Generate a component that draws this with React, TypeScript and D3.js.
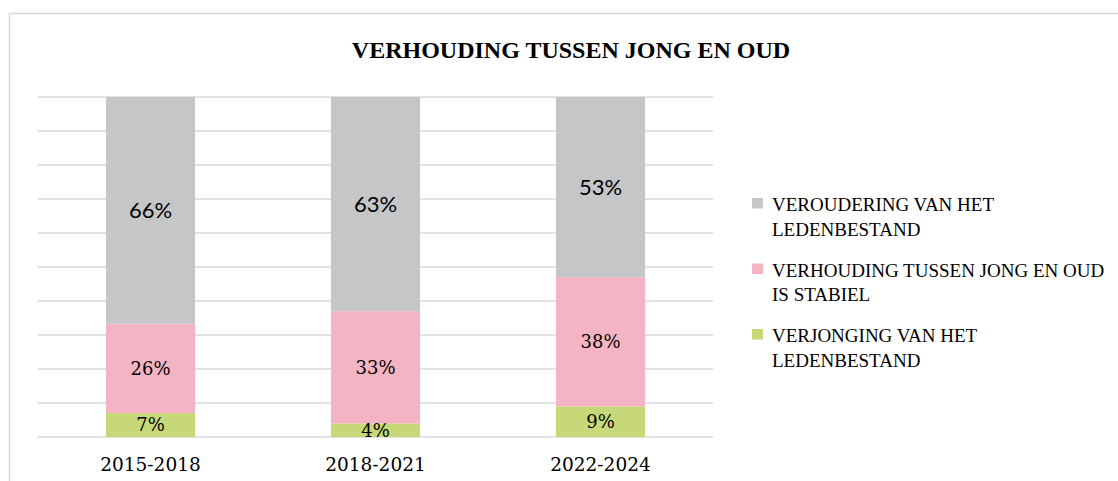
import React from "react";
import * as d3 from "d3";

const categories = ["2015-2018", "2018-2021", "2022-2024"];
const seriesNames = [
  "VERJONGING VAN HET LEDENBESTAND",
  "VERHOUDING TUSSEN JONG EN OUD IS STABIEL",
  "VEROUDERING VAN HET LEDENBESTAND",
];
const verjonging = [7, 4, 9];
const stabiel = [26, 33, 38];
const veroudering = [66, 63, 53];
const legendLines = [
  ["VEROUDERING VAN HET", "LEDENBESTAND"],
  ["VERHOUDING TUSSEN JONG EN OUD", "IS STABIEL"],
  ["VERJONGING VAN HET", "LEDENBESTAND"],
];
const title = "VERHOUDING TUSSEN JONG EN OUD";

const colors = ["#c6d878", "#f5b4c3", "#c5c6c8"];
const SERIF = "'DejaVu Serif', serif";
const SERIF2 = "'Liberation Serif', serif";
const SANS = "Lato, 'Open Sans', sans-serif";

export default function App() {
  const W = 1118, H = 481;
  const plotL = 38, plotR = 713, plotT = 97, plotB = 437;

  const rows = categories.map((c, i) => ({
    cat: c,
    s0: verjonging[i],
    s1: stabiel[i],
    s2: veroudering[i],
  }));
  const keys = ["s0", "s1", "s2"];
  const stack = d3.stack<any>().keys(keys).offset(d3.stackOffsetExpand);
  const series = stack(rows);

  const x = d3.scaleBand().domain(categories).range([plotL, plotR]).paddingInner(0.604).paddingOuter(0.302);
  const y = d3.scaleLinear().domain([0, 1]).range([plotB, plotT]);
  const ticks = d3.range(0, 11).map((d) => d / 10);
  const rawVals = [verjonging, stabiel, veroudering];

  return (
    <svg width={W} height={H} style={{ position: "absolute", left: 0, top: 0 }}>
      <rect x={0} y={0} width={W} height={H} fill="#fff" />
      <path d={`M9.5,${H} V13.5 H${W}`} fill="none" stroke="#d9d9d9" strokeWidth={1.5} />
      <text x={571} y={58} textAnchor="middle" fontFamily={SERIF2} fontWeight="bold" fontSize={24} fill="#000">
        {title}
      </text>
      {ticks.map((t) => (
        <line key={t} x1={plotL} x2={plotR} y1={y(t)} y2={y(t)} stroke="#d9d9d9" strokeWidth={1.5} />
      ))}
      {series.map((s, si) => (
        <g key={si}>
          {s.map((d, i) => (
            <rect
              key={i}
              x={x(categories[i])}
              width={x.bandwidth()}
              y={y(d[1])}
              height={y(d[0]) - y(d[1])}
              fill={colors[si]}
            />
          ))}
        </g>
      ))}
      {series.map((s, si) => (
        <g key={"l" + si}>
          {s.map((d, i) => (
            <text
              key={i}
              x={(x(categories[i]) as number) + x.bandwidth() / 2}
              y={(y(d[0]) + y(d[1])) / 2}
              dy="0.36em"
              textAnchor="middle"
              fontFamily={si === 2 ? SANS : SERIF}
              fontSize={si === 2 ? 22 : 18}
              fill="#000"
            >
              {rawVals[si][i] + "%"}
            </text>
          ))}
        </g>
      ))}
      {categories.map((c) => (
        <text
          key={c}
          x={(x(c) as number) + x.bandwidth() / 2}
          y={470.5}
          textAnchor="middle"
          fontFamily={SERIF}
          fontSize={18.5}
          fill="#000"
        >
          {c}
        </text>
      ))}
      {legendLines.map((lines, li) => {
        const base = 211 + li * 65.5;
        const ci = 2 - li;
        return (
          <g key={li}>
            <rect x={752} y={base - 13} width={11} height={10.5} fill={colors[ci]} />
            {lines.map((ln, k) => (
              <text key={k} x={772} y={base + k * 24.5} fontFamily={SERIF2} fontSize={19} fill="#000">
                {ln}
              </text>
            ))}
          </g>
        );
      })}
    </svg>
  );
}
